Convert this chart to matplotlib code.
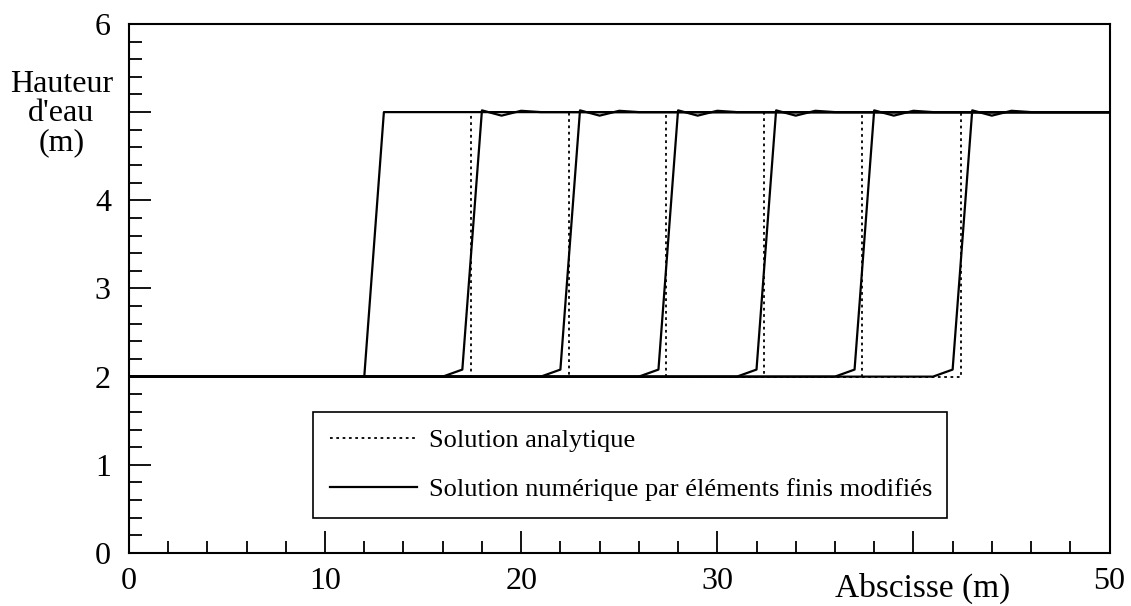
import matplotlib
matplotlib.use("Agg")
import matplotlib.pyplot as plt
from matplotlib.ticker import MultipleLocator, FixedLocator

plt.rcParams["font.family"] = ["Liberation Serif", "DejaVu Serif"]

# Initial condition (numerical mesh nodes, m)
INIT_X = [0, 12, 13, 50]
INIT_H = [2.0, 2.0, 5.0, 5.0]

# Numerical solution: last node still at h=2 for each time step
NUM_FRONT_START = [16, 21, 26, 31, 36, 41]
# profile, node offsets from that start node
PROFILE_DX = [0, 1, 2, 3, 4, 5]
PROFILE_H = [2.0, 2.08, 5.02, 4.96, 5.015, 5.0]

# Analytical solution: position of the bore front
ANA_FRONT = [17.45, 22.45, 27.4, 32.4, 37.4, 42.45]
H_LOW = 2.0
H_HIGH = 5.0
X_MAX = 50

YTICKS = [0, 1, 2, 3, 4, 5, 6]
YTICK_LABELS = ["0", "1", "2", "3", "4", "", "6"]
XTICKS = [0, 10, 20, 30, 40, 50]
XTICK_LABELS = ["0", "10", "20", "30", "", "50"]


def main():
    fig = plt.figure(figsize=(11.31, 6.06), dpi=100)
    ax = fig.add_axes([0.114, 0.0875, 0.867, 0.873])

    # analytical solutions (dotted, underneath)
    for i, xf in enumerate(ANA_FRONT):
        ax.plot([0, xf, xf, X_MAX], [H_LOW, H_LOW, H_HIGH, H_HIGH],
                color="black", lw=1.3, ls=(0, (1.5, 2.0)), zorder=2,
                label="Solution analytique" if i == 0 else None)

    # numerical solutions
    ax.plot(INIT_X, INIT_H, color="black", lw=1.6, zorder=3,
            label="Solution numérique par éléments finis modifiés")
    for xs in NUM_FRONT_START:
        xx = [0] + [xs + d for d in PROFILE_DX] + [X_MAX]
        hh = [H_LOW] + PROFILE_H + [H_HIGH]
        ax.plot(xx, hh, color="black", lw=1.6, zorder=3)

    ax.set_xlim(0, 50)
    ax.set_ylim(0, 6)

    ax.xaxis.set_major_locator(FixedLocator(XTICKS))
    ax.xaxis.set_minor_locator(MultipleLocator(2))
    ax.yaxis.set_major_locator(FixedLocator(YTICKS))
    ax.yaxis.set_minor_locator(MultipleLocator(0.2))
    ax.set_xticklabels(XTICK_LABELS)
    ax.set_yticklabels(YTICK_LABELS)

    ax.tick_params(which="both", direction="in", top=False, right=False,
                   width=1.3, labelsize=23)
    ax.tick_params(which="major", length=16)
    ax.tick_params(which="minor", length=9)
    ax.tick_params(axis="x", pad=10)
    ax.tick_params(axis="y", pad=13)
    for sp in ax.spines.values():
        sp.set_linewidth(1.5)

    ax.set_xlabel("Abscisse (m)", fontsize=24)
    ax.xaxis.set_label_coords(0.809, -0.066)
    ax.xaxis.label.set_va("center")

    ax.set_ylabel("Hauteur\nd'eau\n(m)", fontsize=23, rotation=0,
                  multialignment="center", linespacing=1.0)
    ax.yaxis.set_label_coords(-0.069, 0.83)
    ax.yaxis.label.set_va("center")
    ax.yaxis.label.set_ha("center")

    leg = ax.legend(loc="lower left", bbox_to_anchor=(0.1876, 0.066, 0.647, 0.208),
                    mode="expand", fontsize=19, handlelength=3.3,
                    handletextpad=0.45, labelspacing=0.95, borderpad=0.65,
                    fancybox=False, framealpha=1, edgecolor="black",
                    borderaxespad=0)
    leg.get_frame().set_linewidth(1.2)

    fig.savefig("out.png", dpi=100, facecolor="white")
    plt.close(fig)


if __name__ == "__main__":
    main()
